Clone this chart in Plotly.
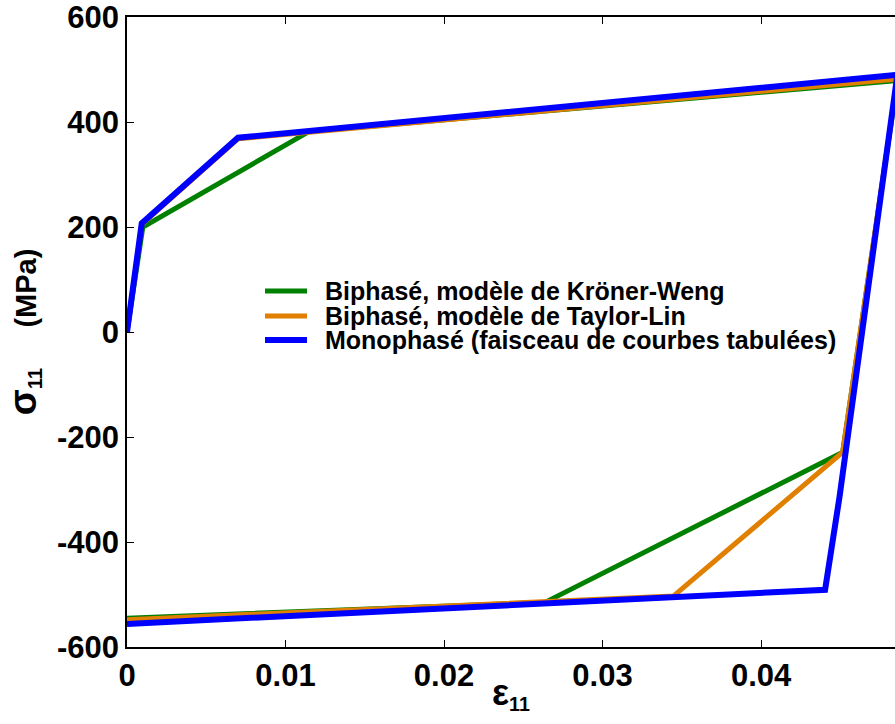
import plotly.graph_objects as go

# Courbes contrainte-déformation
kw_eps = [0, 0.001, 0.0115, 0.0486, 0.04515, 0.02637, 0]
kw_sig = [0, 200, 382, 479, -229, -515, -545]

tl_eps = [0, 0.00093, 0.0070, 0.0486, 0.04515, 0.03447, 0]
tl_sig = [0, 205, 368, 482, -229, -503, -548]

mono_eps = [0, 0.00093, 0.0070, 0.0486, 0.04495, 0.04404, 0]
mono_sig = [0, 207, 370, 490, -314, -491, -556]

names = ["Biphasé, modèle de Kröner-Weng",
         "Biphasé, modèle de Taylor-Lin",
         "Monophasé (faisceau de courbes tabulées)"]
colors = ["#008000", "#E07F00", "#0000FF"]
widths = [5, 5, 6]

x_ticks = [0, 0.01, 0.02, 0.03, 0.04]
x_ticklabels = ["0", "0.01", "0.02", "0.03", "0.04"]
y_ticks = [-600, -400, -200, 0, 200, 400, 600]
y_ticklabels = ["-600", "-400", "-200", "0", "200", "400", "600"]

FONT = "Liberation Sans, Arial, sans-serif"

fig = go.Figure()
for xs, ys, name, c, w in zip([kw_eps, tl_eps, mono_eps],
                              [kw_sig, tl_sig, mono_sig],
                              names, colors, widths):
    fig.add_trace(go.Scatter(x=xs, y=ys, mode="lines",
                             line=dict(color=c, width=w),
                             name=name, showlegend=False))

# légende façon MATLAB (interligne serré)
leg_y = [0.5651, 0.5254, 0.4873]
for name, c, w, yy in zip(names, colors, widths, leg_y):
    fig.add_shape(type="line", xref="paper", yref="paper",
                  x0=0.1797, x1=0.2344, y0=yy, y1=yy,
                  line=dict(color=c, width=w))
    fig.add_annotation(xref="paper", yref="paper", x=0.2552, y=yy,
                       xanchor="left", yanchor="middle", showarrow=False,
                       text=f"<b>{name}</b>",
                       font=dict(family=FONT, size=25, color="black"))

# titre de l'axe x
fig.add_annotation(xref="paper", yref="paper", x=0.5, y=-0.036,
                   xanchor="center", yanchor="top", showarrow=False,
                   text="<b><span style='font-size:36px'>ε</span><sub>11</sub></b>",
                   font=dict(family=FONT, size=28, color="black"))

fig.update_layout(
    width=895, height=724,
    margin=dict(l=127, r=0, t=17, b=77),
    plot_bgcolor="white", paper_bgcolor="white",
    font=dict(family=FONT, color="black"),
    showlegend=False,
)
fig.update_xaxes(
    range=[0, 0.04845], automargin=False,
    tickvals=x_ticks, ticktext=x_ticklabels, ticklabeloverflow="allow",
    tickfont=dict(family=FONT, size=31, weight="bold"),
    ticks="inside", ticklen=7, tickcolor="black",
    showline=True, linecolor="black", linewidth=1.5, mirror="ticks",
    showgrid=False, zeroline=False,
)
fig.update_yaxes(
    range=[-600, 600], automargin=False,
    tickvals=y_ticks, ticktext=y_ticklabels, ticklabeloverflow="allow",
    tickfont=dict(family=FONT, size=31, weight="bold"),
    ticks="inside", ticklen=7, tickcolor="black",
    showline=True, linecolor="black", linewidth=1.5,
    showgrid=False, zeroline=False,
    title=dict(text="<b><span style='font-size:38px'>σ</span><sub>11</sub>     (MPa)</b>",
               font=dict(family=FONT, size=29), standoff=12),
)

# pas de marge de page autour du graphe, pas de barre d'outils
fig.write_html("out.html",
               config={"displayModeBar": False},
               post_script="document.body.style.margin='0';"
                           "document.body.style.overflow='hidden';")
